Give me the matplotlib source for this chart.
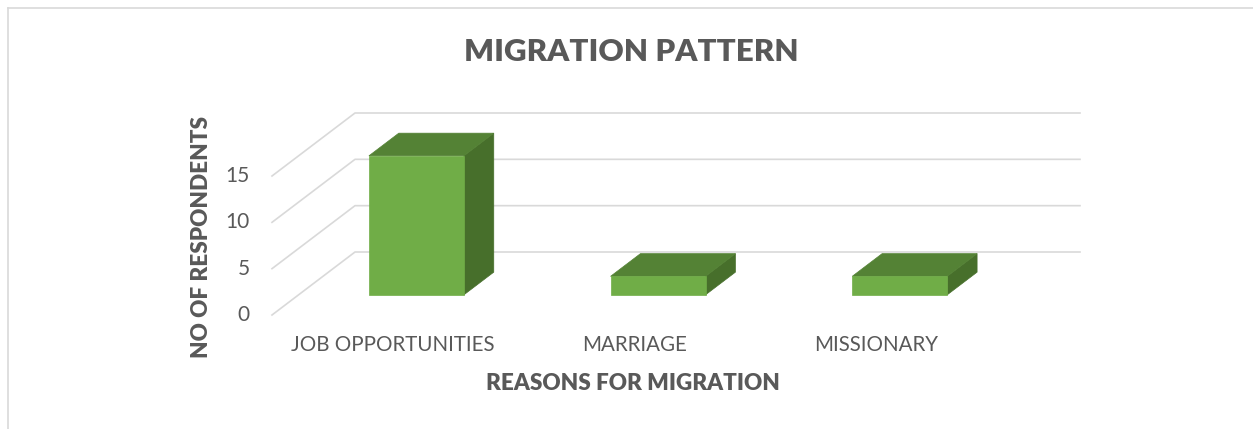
import matplotlib.pyplot as plt
from matplotlib.patches import Polygon
from matplotlib.lines import Line2D

# Dados do gráfico
categorias = ['JOB OPPORTUNITIES', 'MARRIAGE', 'MISSIONARY']
respondentes = [15, 2, 2]
ticks_y = [0, 5, 10, 15]

W, H = 1253, 429
fig = plt.figure(figsize=(W / 100, H / 100), dpi=100)
plt.rcParams['font.family'] = ['Lato', 'DejaVu Sans']

# Eixo ocupando a figura toda; plano frontal: x -0.5..2.5 -> px 272..997, y 0 -> px 315
px_cat = (997 - 272) / 3
px_val = 139 / 15
x_left, y0_px = 272, 315
ax = fig.add_axes([0, 0, 1, 1])
ax.set_xlim(-0.5 - x_left / px_cat, -0.5 + (W - x_left) / px_cat)
ax.set_ylim(-(H - y0_px) / px_val, y0_px / px_val)
ax.axis('off')

# Deslocamento de profundidade (perspectiva oblíqua)
DX = 83 / px_cat
DY = 63 / px_val


def proj(x, y, d):
    return (x + d * DX, y + d * DY)


grid_cor = '#d9d9d9'
x0, x1 = -0.5, len(categorias) - 0.5
for v in ticks_y:
    pts = [proj(x0, v, 0), proj(x0, v, 1), proj(x1, v, 1)]
    ax.plot([p[0] for p in pts], [p[1] for p in pts], color=grid_cor, lw=1.2, zorder=1)
    tx, ty = proj(x0, v, 0)
    ax.text(tx - 22 / px_cat, ty, str(v), ha='right', va='center',
            fontsize=15, color='#595959')

# Barras 3D
w = 0.393
d0, d1 = 0.32, 0.68
desloc = -3 / px_cat
cor_frente, cor_topo, cor_lado = '#70ad47', '#548235', '#476f2b'
for i, val in enumerate(respondentes):
    a, b = i + desloc - w / 2, i + desloc + w / 2
    frente = [proj(a, 0, d0), proj(b, 0, d0), proj(b, val, d0), proj(a, val, d0)]
    topo = [proj(a, val, d0), proj(b, val, d0), proj(b, val, d1), proj(a, val, d1)]
    lado = [proj(b, 0, d0), proj(b, 0, d1), proj(b, val, d1), proj(b, val, d0)]
    for poly, c in [(lado, cor_lado), (topo, cor_topo), (frente, cor_frente)]:
        ax.add_patch(Polygon(poly, closed=True, facecolor=c, edgecolor=c, lw=0.5, zorder=3))
    ax.text(i, -30 / px_val, categorias[i], ha='center', va='center',
            fontsize=14.8, color='#595959')

# Títulos
fig.text(631 / W, 1 - 52 / H, 'MIGRATION PATTERN', ha='center', va='center',
         fontsize=22.5, fontweight='heavy', color='#595959')
fig.text(633 / W, 1 - 383 / H, 'REASONS FOR MIGRATION', ha='center', va='center',
         fontsize=16.2, fontweight='heavy', color='#595959')
fig.text(201 / W, 1 - 237 / H, 'NO OF RESPONDENTS', ha='center', va='center',
         rotation=90, fontsize=16.2, fontweight='heavy', color='#595959')

# Moldura do gráfico
fig.add_artist(Line2D([8 / W, 8 / W], [0, 1 - 8 / H], color='#d9d9d9', lw=1.2))
fig.add_artist(Line2D([8 / W, 1], [1 - 8 / H, 1 - 8 / H], color='#d9d9d9', lw=1.2))

plt.savefig('out.png', dpi=100, facecolor='white')
